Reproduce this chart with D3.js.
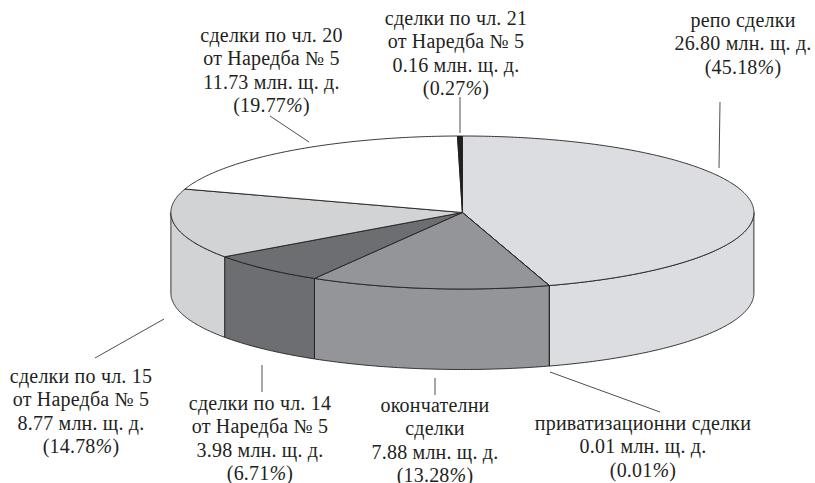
<!DOCTYPE html>
<html><head><meta charset="utf-8">
<script src="https://cdn.jsdelivr.net/npm/d3@7/dist/d3.min.js"></script>
<style>html,body{margin:0;padding:0;background:#fff}svg{display:block}</style>
</head><body><svg id="c" width="815" height="483"></svg>
<script>
const categories = ["репо сделки","приватизационни сделки","окончателни сделки","сделки по чл. 14","сделки по чл. 15","сделки по чл. 20","сделки по чл. 21"];
const shares = [45.18,0.01,13.28,6.71,14.78,19.77,0.27];
const colors = ["#dcdde0","#dcdde0","#939598","#6d6e71","#d1d3d4","#ffffff","#231f20"];
const labelLines = [
 ["репо сделки","26.80 млн. щ. д.","(45.18%)"],
 ["приватизационни сделки","0.01 млн. щ. д.","(0.01%)"],
 ["окончателни","сделки","7.88 млн. щ. д.","(13.28%)"],
 ["сделки по чл. 14","от Наредба № 5","3.98 млн. щ. д.","(6.71%)"],
 ["сделки по чл. 15","от Наредба № 5","8.77 млн. щ. д.","(14.78%)"],
 ["сделки по чл. 20","от Наредба № 5","11.73 млн. щ. д.","(19.77%)"],
 ["сделки по чл. 21","от Наредба № 5","0.16 млн. щ. д.","(0.27%)"]
];
const labelCenter = [[743,27],[643,430],[435,412],[260,410],[81,383],[271.5,42],[456,25]];
const leaders = [[[720,102],[719,168]],[[550,372],[660,412]],[[435,378],[435,395]],[[262,365],[262,392]],[[95,358],[164,319]],[[270,116],[309,142]],[[460,97],[460,133]]];

const cx=462.4, cy=212.5, rx=291.5, ry=76.5, depth=80.5;
const svg=d3.select("#c");
const x=d3.scaleLinear().domain([-1,1]).range([cx-rx,cx+rx]);
const y=d3.scaleLinear().domain([-1,1]).range([cy-ry,cy+ry]);
const pie=d3.pie().sort(null).value(d=>d);
const arcs=pie(shares);
const stroke="#231f20";
const pt=(a,dz=0)=>[x(Math.sin(a)),y(-Math.cos(a))+dz];
const samples=(a0,a1)=>{const n=Math.max(2,Math.ceil((a1-a0)/0.01));return d3.range(n+1).map(i=>a0+(a1-a0)*i/n);};
const line=d3.line();
// walls
const front0=Math.PI/2, front1=3*Math.PI/2;
arcs.forEach((d,i)=>{
  const a0=Math.max(d.startAngle,front0), a1=Math.min(d.endAngle,front1);
  if(a1<=a0) return;
  const s=samples(a0,a1);
  const pts=[...s.map(a=>pt(a,0)),...s.slice().reverse().map(a=>pt(a,depth))];
  svg.append("path").attr("d",line(pts)+"Z").attr("fill",colors[i]).attr("stroke",stroke).attr("stroke-width",0.9).attr("stroke-linejoin","round");
});
// top
arcs.forEach((d,i)=>{
  const pts=[[x(0),y(0)],...samples(d.startAngle,d.endAngle).map(a=>pt(a))];
  svg.append("path").attr("d",line(pts)+"Z").attr("fill",colors[i]).attr("stroke",stroke).attr("stroke-width",0.9).attr("stroke-linejoin","round");
});
// leaders
svg.selectAll("line.l").data(leaders).join("line").attr("x1",d=>d[0][0]).attr("y1",d=>d[0][1]).attr("x2",d=>d[1][0]).attr("y2",d=>d[1][1]).attr("stroke",stroke).attr("stroke-width",0.8);
// labels
const lh=23.4;
labelLines.forEach((ls,i)=>{
  const t=svg.append("text").attr("y",labelCenter[i][1]).attr("text-anchor","middle").attr("font-family","'Liberation Serif',serif").attr("font-size",20).attr("letter-spacing",0.2).attr("fill","#231f20");
  ls.forEach((s,j)=>{
    const parts=s.split("%");
    const sp=t.append("tspan").attr("x",labelCenter[i][0]).attr("dy",j?lh:0).text(parts[0]);
    if(parts.length>1){
      t.append("tspan").attr("font-style","italic").text("%");
      t.append("tspan").text(parts[1]);
    }
  });
});
</script></body></html>
